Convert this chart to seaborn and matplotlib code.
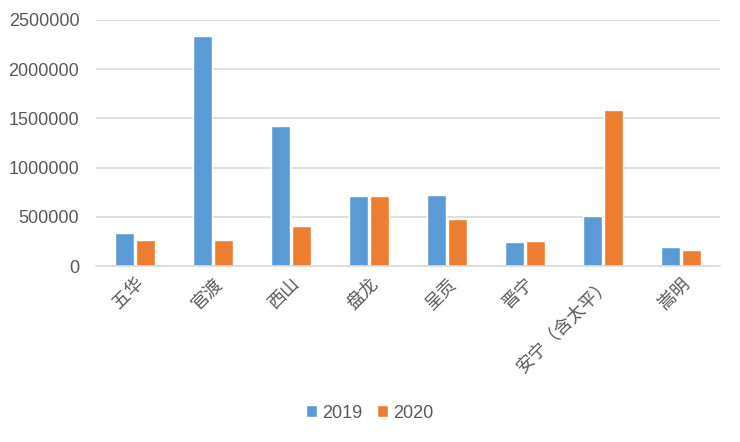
import matplotlib
matplotlib.use("Agg")
import matplotlib.pyplot as plt
import seaborn as sns
import pandas as pd

categories = ["五华", "官渡", "西山", "盘龙", "呈贡", "晋宁", "安宁（含太平）", "嵩明"]
values_2019 = [340000, 2337000, 1423000, 711000, 722000, 244000, 508000, 193000]
values_2020 = [264000, 265000, 406000, 715000, 478000, 254000, 1585000, 163000]
series = ["2019", "2020"]
yticks = [0, 500000, 1000000, 1500000, 2000000, 2500000]

df = pd.DataFrame({
    "区域": categories * 2,
    "值": values_2019 + values_2020,
    "年份": [series[0]] * len(categories) + [series[1]] * len(categories),
})

sns.set_theme(style="white")
plt.rcParams["font.family"] = ["Liberation Sans", "Noto Sans CJK SC", "DejaVu Sans"]

fig = plt.figure(figsize=(7.4, 4.42), dpi=100)
ax = fig.add_axes([0.1297, 0.398, 0.8433, 0.557])

palette = {"2019": "#5B9BD5", "2020": "#ED7D31"}
sns.barplot(data=df, x="區域" if False else "区域", y="值", hue="年份", palette=palette,
            width=0.54, gap=0.12, ax=ax, legend=True, saturation=1)

ax.set_ylim(0, 2500000)
ax.set_yticks(yticks)
ax.set_yticklabels([str(v) for v in yticks])
ax.set_xlim(-0.5, len(categories) - 0.5)
ax.grid(axis="y", color="#D9D9D9", linewidth=1.2)
ax.set_axisbelow(True)
for s in ["top", "right", "left"]:
    ax.spines[s].set_visible(False)
ax.spines["bottom"].set_color("#D9D9D9")
ax.spines["bottom"].set_linewidth(1.2)
ax.set_xlabel("")
ax.set_ylabel("")
ax.tick_params(axis="y", colors="#595959", labelsize=13, length=0, pad=12)
ax.tick_params(axis="x", colors="#595959", length=0, pad=6)
for lab in ax.get_xticklabels():
    lab.set_rotation(45)
    lab.set_ha("right")
    lab.set_va("top")
    lab.set_rotation_mode("anchor")
    lab.set_fontsize(13)
    lab.set_family(["Noto Sans CJK SC", "DejaVu Sans"])

leg = ax.legend(loc="center", bbox_to_anchor=(370 / 740, 1 - 413 / 442),
                bbox_transform=fig.transFigure, ncol=2, frameon=False,
                fontsize=13, handlelength=0.6, handleheight=0.6,
                handletextpad=0.3, columnspacing=0.8)
for t in leg.get_texts():
    t.set_color("#595959")

fig.savefig("out.png", dpi=100)
